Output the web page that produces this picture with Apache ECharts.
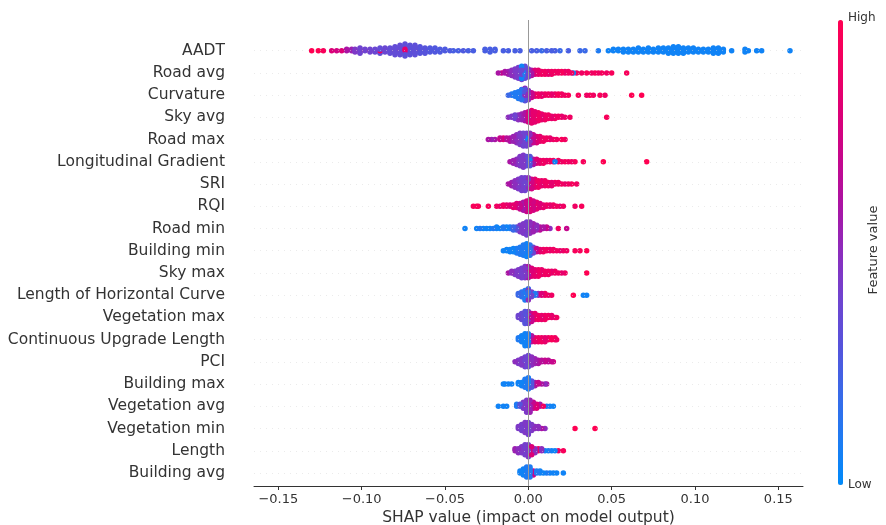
<!DOCTYPE html>
<html>
<head>
<meta charset="utf-8">
<script src="https://cdn.jsdelivr.net/npm/echarts@6/dist/echarts.min.js"></script>
<style>html,body{margin:0;padding:0;background:#fff;}#chart{width:886px;height:525px;}</style>
</head>
<body>
<div id="chart"></div>
<script>
// Features, top to bottom
const features = ["AADT","Road avg","Curvature","Sky avg","Road max","Longitudinal Gradient","SRI","RQI","Road min","Building min","Sky max","Length of Horizontal Curve","Vegetation max","Continuous Upgrade Length","PCI","Building max","Vegetation avg","Vegetation min","Length","Building avg"];
const xTicks = [-0.15,-0.10,-0.05,0.00,0.05,0.10,0.15];
const colorLabels = ["High","Low"];

// Each entry: [SHAP value, number of samples, normalised feature value (0 low .. 1 high)]
const aadt = [[-0.130,1,1],[-0.126,1,1],[-0.123,1,0.95],[-0.118,1,0.8],[-0.115,1,0.75],[-0.112,1,0.8],[-0.109,2,0.6],[-0.106,2,0.55],[-0.104,3,0.45],[-0.101,4,0.4],[-0.101,1,0.95],
 [-0.098,2,0.4],[-0.095,2,0.4],[-0.095,1,0.9],[-0.092,3,0.38],[-0.089,4,0.35],[-0.089,1,0.9],[-0.086,4,0.38],[-0.083,5,0.35],[-0.080,6,0.35],[-0.080,1,0.95],[-0.077,8,0.35],[-0.074,8,0.33],[-0.074,2,0.85],[-0.071,8,0.32],[-0.068,7,0.33],[-0.068,1,0.9],[-0.065,6,0.3],[-0.062,5,0.3],[-0.059,4,0.28],[-0.056,4,0.28],[-0.053,3,0.27],[-0.050,2,0.27],
 [-0.047,1,0.27],[-0.045,1,0.25],[-0.042,1,0.25],[-0.039,1,0.27],[-0.036,1,0.25],[-0.033,1,0.25],[-0.026,2,0.25],[-0.023,3,0.25],[-0.020,2,0.25],[-0.015,1,0.25],[-0.012,1,0.25],[-0.008,1,0.25],[-0.005,1,0.25],
 [0.002,1,0.25],[0.005,1,0.25],[0.008,1,0.2],[0.011,1,0.25],[0.014,1,0.25],[0.016,1,0.25],[0.019,1,0.2],[0.024,1,0.25],[0.031,1,0.2],[0.034,1,0.2],[0.042,1,0.1],
 [0.048,1,0.05],[0.051,2,0.05],[0.054,2,0.05],[0.057,3,0.05],[0.060,3,0.05],[0.063,3,0.05],[0.066,4,0.05],[0.069,3,0.05],[0.072,4,0.05],[0.075,3,0.05],[0.078,4,0.05],[0.081,4,0.05],[0.084,5,0.05],[0.087,6,0.05],[0.090,6,0.05],[0.093,5,0.05],[0.096,4,0.05],[0.099,4,0.05],[0.102,3,0.05],[0.105,3,0.05],[0.108,3,0.05],[0.111,5,0.05],[0.114,5,0.05],[0.117,3,0.05],[0.122,1,0.05],[0.130,2,0.05],[0.132,1,0.05],[0.137,1,0.05],[0.140,1,0.05],[0.157,1,0.05]];
const roadAvg = [[-0.018,1,0.6],[-0.016,1,0.7],[-0.014,2,0.6],[-0.012,3,0.55],[-0.010,5,0.5],[-0.008,7,0.45],[-0.006,9,0.42],[-0.004,8,0.38],[-0.004,3,0.05],[-0.002,6,0.35],[-0.002,4,0.1],[0.000,7,0.4],[0.002,5,0.6],[0.004,4,0.8],[0.006,4,0.85],[0.008,3,0.9],[0.010,3,0.9],[0.012,3,0.85],[0.014,3,0.9],[0.016,2,0.9],[0.018,2,0.9],[0.020,2,0.95],[0.022,2,0.85],[0.024,2,0.9],[0.026,1,0.9],[0.027,1,0.05],[0.029,1,0.9],[0.032,1,0.9],[0.035,1,0.95],[0.038,1,0.9],[0.040,1,0.95],[0.042,1,0.9],[0.044,1,0.95],[0.047,1,0.9],[0.050,1,0.95],[0.059,1,0.95]];
const curvature = [[-0.012,1,0.2],[-0.010,2,0.1],[-0.008,4,0.1],[-0.006,7,0.1],[-0.004,10,0.15],[-0.002,8,0.3],[-0.002,4,0.5],[0.000,9,0.5],[0.002,5,0.7],[0.004,3,0.85],[0.006,3,0.9],[0.008,3,0.85],[0.010,2,0.9],[0.012,2,0.9],[0.014,2,0.85],[0.016,2,0.9],[0.018,2,0.95],[0.020,2,0.9],[0.022,1,0.9],[0.024,1,0.95],[0.030,1,0.95],[0.035,1,0.9],[0.037,1,0.95],[0.039,1,0.9],[0.043,1,0.95],[0.046,1,0.9],[0.062,1,1],[0.068,1,1]];
const skyAvg = [[-0.012,1,0.5],[-0.010,2,0.45],[-0.008,4,0.4],[-0.006,5,0.5],[-0.004,6,0.55],[-0.002,8,0.6],[0.000,10,0.75],[0.002,12,0.85],[0.004,10,0.85],[0.006,8,0.9],[0.008,6,0.85],[0.010,5,0.9],[0.012,4,0.9],[0.014,3,0.85],[0.016,3,0.9],[0.018,2,0.9],[0.020,2,0.85],[0.022,1,0.9],[0.025,1,0.9],[0.047,1,0.95]];
const roadMax = [[-0.024,1,0.6],[-0.022,1,0.55],[-0.020,1,0.6],[-0.017,2,0.7],[-0.015,2,0.8],[-0.013,2,0.65],[-0.011,3,0.6],[-0.009,4,0.55],[-0.007,6,0.5],[-0.005,8,0.45],[-0.003,9,0.4],[-0.001,6,0.4],[-0.001,3,0.05],[0.001,8,0.5],[0.003,6,0.7],[0.005,5,0.8],[0.007,4,0.85],[0.009,3,0.9],[0.011,2,0.9],[0.013,2,0.85],[0.015,1,0.9],[0.017,1,0.9],[0.020,1,0.95],[0.022,1,0.9]];
const longGrad = [[-0.011,1,0.6],[-0.009,3,0.55],[-0.007,5,0.5],[-0.005,8,0.45],[-0.003,10,0.45],[-0.001,8,0.35],[0.001,6,0.3],[0.001,2,0.05],[0.003,5,0.6],[0.005,4,0.8],[0.007,3,0.85],[0.009,3,0.9],[0.011,2,0.85],[0.013,2,0.9],[0.015,2,0.9],[0.016,1,0.05],[0.018,2,0.9],[0.020,1,0.9],[0.022,1,0.95],[0.024,1,0.9],[0.026,1,0.9],[0.028,1,0.95],[0.033,1,0.95],[0.045,1,1],[0.071,1,1]];
const sri = [[-0.012,1,0.6],[-0.010,3,0.55],[-0.008,5,0.5],[-0.006,7,0.45],[-0.004,9,0.42],[-0.002,9,0.4],[0.000,6,0.5],[0.000,2,0.05],[0.002,7,0.75],[0.004,6,0.85],[0.006,5,0.9],[0.008,4,0.85],[0.010,4,0.9],[0.012,3,0.9],[0.014,3,0.85],[0.016,2,0.9],[0.018,2,0.9],[0.020,1,0.9],[0.022,1,0.85],[0.024,1,0.9],[0.026,1,0.95],[0.029,1,0.9]];
const rqi = [[-0.033,1,0.95],[-0.031,1,1],[-0.030,1,0.95],[-0.024,1,0.95],[-0.019,1,0.9],[-0.017,1,0.85],[-0.015,2,0.9],[-0.013,2,0.85],[-0.011,2,0.8],[-0.009,3,0.85],[-0.007,4,0.8],[-0.005,5,0.7],[-0.003,7,0.6],[-0.001,9,0.7],[0.001,10,0.8],[0.003,8,0.75],[0.005,6,0.85],[0.007,4,0.8],[0.009,3,0.85],[0.011,2,0.9],[0.013,2,0.85],[0.015,2,0.9],[0.017,1,0.9],[0.019,1,0.85],[0.021,1,0.9],[0.028,1,0.9],[0.032,1,0.95]];
const roadMin = [[-0.038,1,0.05],[-0.031,1,0.05],[-0.029,1,0.1],[-0.027,1,0.05],[-0.025,1,0.05],[-0.023,1,0.05],[-0.021,1,0.1],[-0.019,2,0.05],[-0.017,1,0.05],[-0.015,2,0.1],[-0.013,2,0.05],[-0.011,2,0.1],[-0.009,3,0.2],[-0.007,3,0.3],[-0.005,5,0.45],[-0.003,7,0.45],[-0.001,9,0.42],[0.001,8,0.5],[0.003,6,0.55],[0.005,4,0.5],[0.007,3,0.65],[0.009,2,0.6],[0.011,2,0.7],[0.013,1,0.5],[0.018,1,0.9],[0.023,1,0.7]];
const buildingMin = [[-0.015,1,0.05],[-0.013,2,0.05],[-0.011,3,0.05],[-0.009,4,0.05],[-0.007,5,0.1],[-0.005,7,0.1],[-0.003,10,0.1],[-0.001,12,0.05],[0.001,10,0.15],[0.003,6,0.4],[0.005,4,0.7],[0.007,3,0.85],[0.009,3,0.9],[0.011,2,0.9],[0.013,2,0.85],[0.015,2,0.9],[0.017,1,0.9],[0.019,1,0.85],[0.021,1,0.9],[0.023,1,0.9],[0.028,1,0.95],[0.031,1,0.95],[0.035,1,1]];
const skyMax = [[-0.012,1,0.6],[-0.010,2,0.5],[-0.008,3,0.45],[-0.006,5,0.45],[-0.004,7,0.42],[-0.002,8,0.45],[0.000,8,0.6],[0.002,6,0.8],[0.004,5,0.85],[0.006,5,0.9],[0.008,4,0.85],[0.010,3,0.9],[0.012,3,0.9],[0.014,2,0.85],[0.016,2,0.9],[0.018,1,0.9],[0.020,1,0.85],[0.022,1,0.9],[0.035,1,1]];
const horizCurveLen = [[-0.006,2,0.2],[-0.004,4,0.15],[-0.002,7,0.1],[0.000,6,0.2],[0.000,2,0.5],[0.002,4,0.4],[0.004,2,0.1],[0.006,2,0.5],[0.008,2,0.8],[0.010,2,0.9],[0.012,1,0.85],[0.014,1,0.9],[0.027,1,1],[0.033,1,0.05],[0.035,1,0.05]];
const vegMax = [[-0.006,2,0.4],[-0.004,4,0.35],[-0.002,7,0.3],[0.000,7,0.45],[0.002,5,0.7],[0.004,4,0.85],[0.006,3,0.9],[0.008,3,0.85],[0.010,3,0.9],[0.012,2,0.9],[0.014,2,0.85],[0.016,1,0.9],[0.017,1,0.9]];
const upgradeLen = [[-0.006,2,0.1],[-0.004,4,0.05],[-0.002,7,0.05],[0.000,7,0.1],[0.002,4,0.6],[0.004,3,0.85],[0.006,3,0.9],[0.008,3,0.9],[0.010,3,0.85],[0.012,2,0.9],[0.014,2,0.95],[0.016,2,0.9],[0.017,1,0.9]];
const pci = [[-0.008,1,0.5],[-0.006,3,0.45],[-0.004,5,0.45],[-0.002,7,0.4],[0.000,8,0.38],[0.002,6,0.5],[0.004,4,0.55],[0.006,3,0.6],[0.008,2,0.65],[0.010,2,0.7],[0.012,2,0.65],[0.014,1,0.7],[0.015,1,0.75]];
const buildingMax = [[-0.015,1,0.05],[-0.014,1,0.05],[-0.012,1,0.05],[-0.010,1,0.05],[-0.006,2,0.05],[-0.004,3,0.05],[-0.002,6,0.1],[0.000,8,0.1],[0.002,5,0.3],[0.004,3,0.6],[0.006,2,0.7],[0.008,1,0.6],[0.010,1,0.5],[0.011,1,0.6]];
const vegAvg = [[-0.018,1,0.05],[-0.015,1,0.05],[-0.013,1,0.05],[-0.007,2,0.1],[-0.005,2,0.3],[-0.003,4,0.45],[-0.001,7,0.45],[0.001,7,0.55],[0.003,4,0.7],[0.005,3,0.8],[0.007,2,0.6],[0.009,1,0.9],[0.011,1,0.1],[0.013,1,0.05],[0.015,1,0.05]];
const vegMin = [[-0.006,2,0.45],[-0.004,4,0.42],[-0.002,6,0.45],[0.000,7,0.42],[0.002,4,0.45],[0.004,2,0.5],[0.006,2,0.5],[0.008,1,0.6],[0.010,1,0.5],[0.028,1,1],[0.040,1,1]];
const lengthF = [[-0.008,2,0.55],[-0.006,3,0.5],[-0.004,4,0.45],[-0.002,6,0.42],[0.000,7,0.45],[0.002,5,0.8],[0.004,3,0.5],[0.006,2,0.9],[0.008,2,0.5],[0.010,1,0.05],[0.012,1,0.1],[0.014,1,0.05],[0.016,1,0.05],[0.018,1,0.9],[0.021,1,0.95]];
const buildingAvg = [[-0.005,2,0.05],[-0.003,4,0.05],[-0.001,6,0.1],[0.001,6,0.1],[0.003,3,0.7],[0.005,2,0.1],[0.007,2,0.05],[0.009,1,0.05],[0.011,1,0.1],[0.013,1,0.05],[0.015,1,0.05],[0.017,1,0.05],[0.021,1,0.05]];

const rowsData = [aadt,roadAvg,curvature,skyAvg,roadMax,longGrad,sri,rqi,roadMin,buildingMin,skyMax,horizCurveLen,vegMax,upgradeLen,pci,buildingMax,vegAvg,vegMin,lengthF,buildingAvg];

// ---- beeswarm layout (as in shap's summary plot) ----
const nFeat = features.length;
function layoutRow(entries, rowPos) {
  const pts = [];
  entries.forEach(function (e) { for (let k = 0; k < e[1]; k++) pts.push({x: e[0], c: e[2], id: pts.length}); });
  let mn = Infinity, mx = -Infinity;
  pts.forEach(function (p) { mn = Math.min(mn, p.x); mx = Math.max(mx, p.x); });
  const nbins = 100;
  pts.forEach(function (p) { p.q = Math.round(nbins * (p.x - mn) / (mx - mn + 1e-8)); p.k = (p.id * 7919) % 997; });
  const order = pts.slice().sort(function (a, b) { return a.q - b.q || a.k - b.k; });
  let layer = 0, last = -1;
  order.forEach(function (p) {
    if (p.q !== last) layer = 0;
    p.ys = Math.ceil(layer / 2) * ((layer % 2) * 2 - 1);
    layer++; last = p.q;
  });
  let m = 0; pts.forEach(function (p) { m = Math.max(m, p.ys + 1); });
  return pts.map(function (p) { return [p.x, rowPos + p.ys * 0.9 * 0.4 / m, p.c]; });
}
let allPts = [];
rowsData.forEach(function (entries, i) { allPts = allPts.concat(layoutRow(entries, nFeat - 1 - i)); });
// mixed drawing order (shap draws points in shuffled order)
allPts = allPts.map(function (p, i) { return {p: p, k: (i * 7919) % 10007}; }).sort(function (a, b) { return a.k - b.k; }).map(function (o) { return o.p; });

const rowNames = features.slice().reverse();
const rowTicks = rowNames.map(function (_, i) { return i; });
const gridLines = rowTicks.map(function (i) { return {yAxis: i}; });
const fmtTick = function (v) { const s = Math.abs(v).toFixed(2); return (v < -1e-9 ? '\u2212' : '') + s; };

const colorStops = ['#008afa','#1f7bf2','#3a69e8','#5653db','#6f44d0','#8c2dbd','#aa14a4','#c5078d','#dc0077','#f00062','#ff0052'];
const FONT = 'DejaVu Sans';

const chart = echarts.init(document.getElementById('chart'), null, {renderer: 'canvas'});
chart.setOption({
  animation: false,
  backgroundColor: '#ffffff',
  textStyle: {fontFamily: FONT},
  grid: {left: 254, right: 83, top: 20, bottom: 39, containLabel: false, outerBoundsMode: 'none'},
  xAxis: {
    type: 'value', min: -0.1646, max: 0.1648,
    axisLine: {show: true, onZero: false, lineStyle: {color: '#333333', width: 1}},
    axisTick: {show: true, customValues: xTicks, length: 4, lineStyle: {color: '#333333'}},
    axisLabel: {customValues: xTicks, formatter: fmtTick, fontSize: 13, color: '#333333', margin: 7, fontFamily: FONT},
    splitLine: {show: false},
    name: 'SHAP value (impact on model output)', nameLocation: 'middle', nameGap: 24, nameMoveOverlap: false,
    nameTextStyle: {fontSize: 15.5, color: '#333333', fontFamily: FONT}
  },
  yAxis: {
    type: 'value', min: -0.585, max: 20.38,
    axisLine: {show: false, onZero: false}, axisTick: {show: false}, splitLine: {show: false},
    axisLabel: {customValues: rowTicks, formatter: function (v) { return rowNames[Math.round(v)] || ''; }, fontSize: 15.5, color: '#333333', margin: 29, fontFamily: FONT}
  },
  visualMap: {
    type: 'continuous', min: 0, max: 1, dimension: 2, seriesIndex: 1,
    inRange: {color: colorStops},
    show: true, calculable: false, orient: 'vertical',
    left: 833, top: 15, itemWidth: 5, itemHeight: 465, padding: 5, text: null,
    hoverLink: false
  },
  series: [
    {
      type: 'scatter', data: [], silent: true, z: 1,
      markLine: {
        silent: true, symbol: ['none', 'none'], label: {show: false}, animation: false,
        lineStyle: {color: '#d6d6d6', width: 0.5, type: [1, 5]},
        data: gridLines.concat([{xAxis: 0, lineStyle: {color: '#999999', width: 1, type: 'solid'}}])
      }
    },
    {
      type: 'scatter', data: allPts, symbolSize: 5.5, z: 3, silent: true,
      itemStyle: {opacity: 1, borderWidth: 0}
    }
  ],
  graphic: [
    {type: 'text', left: 848, top: 12, style: {text: colorLabels[0], fontSize: 12, fill: '#333333', fontFamily: FONT}},
    {type: 'text', left: 848, top: 479, style: {text: colorLabels[1], fontSize: 12, fill: '#333333', fontFamily: FONT}},
    {type: 'text', x: 874, y: 250, rotation: Math.PI / 2, style: {text: 'Feature value', fontSize: 13, fill: '#333333', fontFamily: FONT, align: 'center', verticalAlign: 'middle'}}
  ]
});
</script>
</body>
</html>
